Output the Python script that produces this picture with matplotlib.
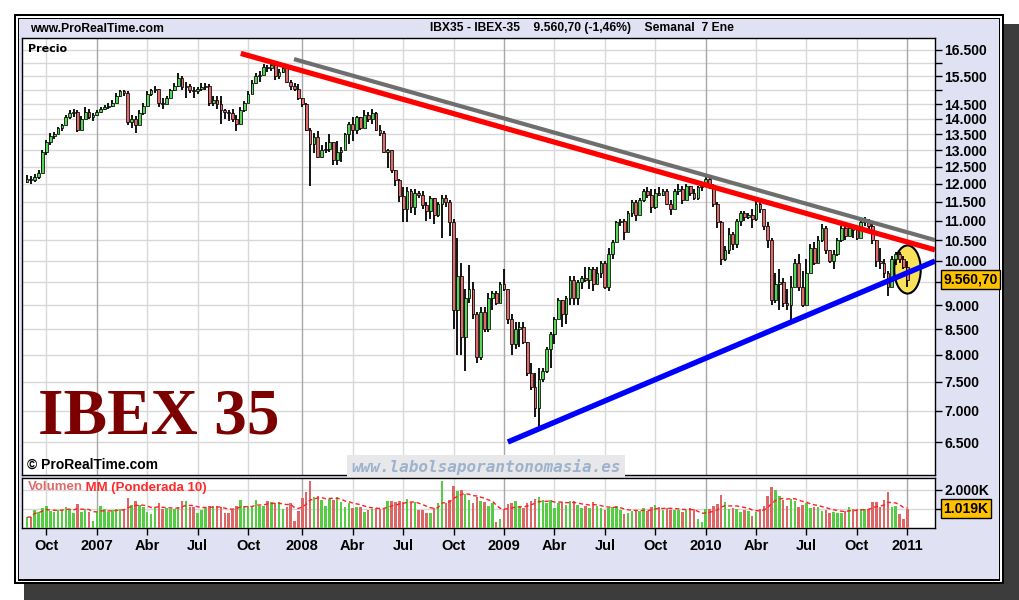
"""
IBEX 35 weekly bars (ProRealTime look) with trend lines and volume panel.
"""

import numpy as np
import pandas as pd
import matplotlib
matplotlib.use("Agg")
import matplotlib.pyplot as plt
import matplotlib.dates as mdates
from matplotlib.patches import Rectangle
from matplotlib.markers import MarkerStyle
from matplotlib.ticker import NullLocator, NullFormatter
from matplotlib.transforms import Affine2D, blended_transform_factory

plt.rcParams['font.family'] = ['Liberation Sans', 'DejaVu Sans']

# one bar per week, bars placed on the Monday of the week
first_week = "2006-08-28"
first_open = 12050

close = [
    12150, 12100, 12200, 12300, 12950, 13250, 13450, 13500, 13700, 13800,
    14050, 14200, 14250, 13650, 14000, 14250, 14050, 14150, 14250, 14350,
    14400, 14450, 14550, 14800, 14950, 14900, 13900, 14000, 13800, 14200,
    14450, 14850, 15000, 15050, 14550, 14500, 14700, 15000, 15150, 15450,
    15100, 15150, 15000, 14950, 15050, 15100, 15150, 14550, 14650, 14500,
    14300, 14250, 14200, 14000, 13850, 14300, 14550, 14850, 15250, 15500,
    15550, 15850, 15800, 15900, 15500, 15650, 15800, 15300, 15150, 15050,
    14700, 14500, 13650, 13200, 13400, 12800, 13000, 13050, 13250, 12700,
    12950, 13000, 13500, 13850, 13650, 14050, 13700, 14150, 14000, 14200,
    13650, 13550, 12950, 13000, 12400, 12100, 11650, 11300, 11800, 11350,
    11750, 11700, 11400, 11250, 11600, 11150, 11450, 11600, 11500, 10950,
    8900, 9650, 8350, 9150, 9350, 8800, 7950, 8850, 8500, 9150,
    9250, 9050, 9450, 9350, 8700, 8200, 8500, 8550, 8250, 7650,
    7400, 7050, 7550, 7700, 8100, 8400, 8700, 9100, 8800, 9150,
    9550, 9150, 9500, 9600, 9550, 9800, 9450, 9700, 9950, 9400,
    10150, 10450, 10950, 11000, 10700, 11200, 11500, 11150, 11550, 11800,
    11700, 11350, 11750, 11700, 11800, 11450, 11300, 11800, 11850, 11550,
    11950, 11750, 11600, 11900, 11950, 12150, 11950, 11450, 10950, 10050,
    10250, 10650, 10400, 11000, 11200, 11100, 11150, 11050, 11450, 11300,
    10850, 10500, 9100, 9450, 9500, 9050, 9000, 9400, 9950, 9400,
    9000, 9700, 10300, 9950, 10500, 10800, 10250, 10000, 10150, 10500,
    10800, 10600, 10800, 10750, 10550, 10950, 11000, 10850, 10500, 10000,
    9950, 9700, 9400, 10050, 10150, 10050, 9850, 9560.70,
]

high = [
    12250, 12230, 12280, 12400, 13000, 13330, 13550, 13560, 13750, 13850,
    14150, 14300, 14350, 14300, 14100, 14400, 14350, 14200, 14300, 14420,
    14480, 14550, 14650, 14900, 15000, 15000, 14950, 14150, 14100, 14300,
    14550, 14950, 15050, 15150, 15050, 14700, 14800, 15050, 15250, 15600,
    15500, 15300, 15200, 15100, 15100, 15250, 15250, 15200, 14800, 14800,
    14800, 14350, 14300, 14350, 14150, 14400, 14600, 14950, 15350, 15600,
    15700, 15950, 15900, 16000, 15900, 15750, 15900, 15950, 15350, 15250,
    15200, 14700, 14550, 13700, 13550, 13600, 13150, 13250, 13500, 13250,
    13300, 13100, 13550, 13900, 14050, 14100, 14050, 14300, 14250, 14350,
    14250, 13800, 13600, 13050, 13000, 12400, 12150, 11900, 11900, 11850,
    11850, 11800, 11800, 11500, 11650, 11600, 11500, 11700, 11700, 11550,
    11050, 10550, 9950, 9350, 9900, 9500, 8850, 8950, 8950, 9250,
    9300, 9300, 9500, 9800, 9350, 8800, 8650, 8650, 8650, 8250,
    7850, 7650, 7750, 7750, 8150, 8450, 8750, 9150, 9100, 9200,
    9650, 9650, 9550, 9650, 9850, 9850, 9850, 9850, 10000, 10000,
    10300, 10500, 11000, 11050, 11050, 11250, 11550, 11550, 11600, 11850,
    11900, 11850, 11850, 11900, 11850, 11850, 11550, 11850, 12000, 11950,
    12000, 11950, 11850, 11950, 12050, 12250, 12200, 12000, 11500, 11000,
    10350, 10800, 10700, 11050, 11250, 11250, 11200, 11300, 11550, 11600,
    11300, 10950, 10550, 9700, 9800, 9600, 9350, 9650, 10050, 10150,
    9750, 10050, 10400, 10450, 10600, 10900, 10850, 10250, 10250, 10550,
    10850, 10950, 10900, 10900, 10850, 11000, 11100, 11050, 10900, 10500,
    10300, 10050, 9750, 10100, 10200, 10200, 10100, 10000,
]

low = [
    12030, 12000, 12050, 12150, 12350, 12850, 13150, 13350, 13500, 13600,
    13800, 14000, 14050, 13580, 13650, 14000, 14000, 13950, 14100, 14200,
    14300, 14350, 14400, 14550, 14750, 14800, 13800, 13700, 13550, 13800,
    14150, 14450, 14800, 14900, 14400, 14350, 14500, 14700, 14950, 15100,
    15000, 14700, 14900, 14700, 14850, 14950, 15000, 14450, 14450, 14350,
    13850, 14000, 13950, 13900, 13600, 13850, 14250, 14550, 14850, 15200,
    15300, 15550, 15650, 15700, 15350, 15400, 15600, 15250, 15000, 14950,
    14650, 14400, 13600, 11950, 12900, 12750, 12750, 12900, 12950, 12550,
    12550, 12650, 13250, 13200, 13300, 13500, 13650, 13700, 13900, 13850,
    13600, 13450, 12900, 12450, 12300, 11950, 11500, 10950, 10950, 11200,
    11150, 11600, 11300, 11000, 11050, 10900, 11100, 10550, 11350, 10600,
    8500, 8000, 8000, 7700, 9050, 8700, 7850, 7900, 8450, 8450,
    8900, 9000, 9050, 9300, 8600, 8000, 8100, 8150, 8200, 7600,
    7350, 6900, 6720, 7500, 7650, 7750, 8200, 8700, 8550, 8600,
    9000, 9000, 9000, 9350, 9500, 9350, 9300, 9450, 9600, 9350,
    9300, 10050, 10450, 10850, 10500, 10700, 11100, 11000, 11150, 11500,
    11600, 11200, 11300, 11650, 11650, 11400, 11150, 11300, 11700, 11450,
    11550, 11650, 11550, 11550, 11800, 11900, 11850, 11350, 10800, 9900,
    10000, 10150, 10250, 10300, 10850, 11000, 11050, 10800, 11000, 11200,
    10750, 10300, 9000, 9050, 8900, 8950, 8900, 8650, 9400, 9300,
    8950, 9000, 9700, 9900, 9950, 10450, 10150, 9950, 9800, 10100,
    10450, 10500, 10600, 10550, 10500, 10550, 10850, 10750, 10400, 9850,
    9800, 9600, 9200, 9400, 9900, 9950, 9800, 9400,
]

# weekly volume, thousands of contracts
volume_k = [
    561, 596, 947, 860, 1070, 1158, 895, 860, 947, 947,
    1123, 1000, 807, 1263, 860, 1000, 860, 368, 860, 1158,
    1000, 860, 947, 1000, 1000, 1000, 1561, 1210, 1421, 1210,
    1123, 860, 737, 1123, 1333, 1000, 1070, 1000, 1000, 1123,
    1421, 1421, 1123, 1123, 807, 947, 1035, 1175, 1158, 1175,
    1123, 807, 807, 947, 1158, 1473, 1175, 1175, 1123, 1473,
    1175, 1175, 1421, 1386, 1298, 1351, 1000, 1123, 1298, 368,
    895, 1561, 1912, 2473, 1614, 1684, 1473, 1158, 1508, 1473,
    1614, 1386, 1088, 1333, 1070, 1123, 1123, 860, 947, 1000,
    1070, 1000, 1070, 1421, 1421, 1351, 1421, 1351, 1508, 1351,
    1351, 947, 947, 807, 807, 1035, 1333, 2491, 1333, 1473,
    2228, 1947, 2000, 1789, 1473, 1298, 1649, 1421, 1351, 1158,
    1333, 333, 474, 1000, 1263, 1333,
    1421, 1158, 1070, 1298, 1421, 1526, 1614, 1473, 1333, 1473,
    1070, 1333, 1351, 1210, 1421, 1421, 1210, 1070, 1158, 1070,
    1368, 1158, 1035, 947, 1035, 1088, 1158, 947, 737, 807,
    912, 912, 895, 1035, 895, 1123, 1210, 1123, 947, 1070,
    947, 947, 947, 860, 947, 1035, 1000, 474, 333, 1000,
    1000, 1158, 1263, 1737, 1368, 982, 1070, 1000, 860, 947,
    912, 632, 860, 1000, 1158, 1702, 2140, 2000, 1684, 1473,
    1158, 1508, 1421, 1123, 1210, 1298, 1035, 1088, 1123, 895,
    947, 772, 824, 807, 807, 895, 1088, 1000, 1000, 1000,
    1000, 982, 1386, 1386, 1123, 1473, 1912, 1123, 1158, 737,
    474, 1019,
]

# hand drawn trend lines: (dates, levels)
gray_line_dates = ["2007-12-23", "2011-02-22"]
gray_line_levels = [16140, 10500]
red_line_dates = ["2007-09-18", "2011-02-22"]
red_line_levels = [16360, 10260]
blue_line_dates = ["2009-01-12", "2011-02-22"]
blue_line_levels = [6500, 9990]

highlight_level = 9800

symbol_text = "IBX35 - IBEX-35"
change_text = "(-1,46%)"
period_text = "Semanal  7 Ene"
quarter_names = {4: "Abr", 7: "Jul", 10: "Oct"}

price_ticks = list(range(6500, 17000, 500))
hidden_price_labels = [16000, 15000, 9500]
volume_ticks = [1000, 2000]

x_start, x_end = "2006-08-19", "2011-02-22"


def es_num(v, dec=0):
    s = f"{v:,.{dec}f}"
    return s.replace(",", "#").replace(".", ",").replace("#", ".")


W, H = 1020, 600
fig = plt.figure(figsize=(W / 100, H / 100), dpi=100)
fig.patch.set_facecolor("white")


def frame_rect(x0, y0, x1, y1, color):
    fig.add_artist(Rectangle((x0 / W, 1 - y1 / H), (x1 - x0) / W, (y1 - y0) / H,
                             transform=fig.transFigure, facecolor=color,
                             edgecolor="none", zorder=-10))


# window frame with drop shadow
frame_rect(24, 24, 1020, 600, "#3c3c3c")
frame_rect(14, 14, 1004, 584, "black")
frame_rect(16, 16, 1002, 582, "white")
frame_rect(17.5, 17.5, 1000.5, 580.5, "black")
frame_rect(19, 19, 999, 579, "#e1e1f4")

ax = fig.add_axes([22 / W, 1 - 475 / H, 913 / W, 437 / H])
vax = fig.add_axes([22 / W, 1 - 528 / H, 913 / W, 50 / H], sharex=ax)

dates = pd.date_range(first_week, periods=len(close), freq="7D")
x = mdates.date2num(dates)
c = np.array(close, float)
hi = np.array(high, float)
lo = np.array(low, float)
o = np.r_[first_open, c[:-1]]
up = c >= o

# price bars
ax.set_yscale("log")
ax.vlines(x, lo, hi, color="black", lw=1.3, zorder=4)
ax.bar(x, np.abs(c - o), bottom=np.minimum(o, c), width=5,
       color=np.where(up, "#55d455", "#e06a6a"), edgecolor="black",
       linewidth=0.55, zorder=5)

# highlight around the last bars
ell = MarkerStyle("o", transform=Affine2D().scale(0.55, 1.0))
ax.scatter([x[-1]], [highlight_level], s=1200, marker=ell, facecolor="#f7e25a",
           edgecolor="black", linewidth=1.5, zorder=3)

for d, lv, col, lw in [(gray_line_dates, gray_line_levels, "#6e6e6e", 3.0),
                       (red_line_dates, red_line_levels, "#ff0000", 3.8),
                       (blue_line_dates, blue_line_levels, "#0000ff", 3.9)]:
    ax.plot(mdates.date2num(pd.to_datetime(d)), lv, color=col, lw=lw,
            solid_capstyle="butt", zorder=6)

ax.set_xlim(mdates.date2num(pd.Timestamp(x_start)), mdates.date2num(pd.Timestamp(x_end)))
ax.set_ylim(6010, 16970)

# quarter ticks at the first bar of every quarter
quarter = np.asarray(dates.year * 4 + (dates.month - 1) // 3)
new_q = np.r_[False, np.diff(quarter) != 0]
tick_dates = dates[new_q]
tick_x = x[new_q]
tick_labels = [str(d.year) if d.month == 1 else quarter_names[d.month] for d in tick_dates]

for a in (ax, vax):
    for tx, d in zip(tick_x, tick_dates):
        a.axvline(tx, color="#a8a8a8" if d.month == 1 else "#d8d8d8", lw=1, zorder=1)
    for sp in a.spines.values():
        sp.set_color("black")
        sp.set_linewidth(1)

# price axis on the right
ax.yaxis.tick_right()
ax.set_yticks(price_ticks)
ax.set_yticklabels(["" if t in hidden_price_labels else es_num(t) for t in price_ticks])
ax.yaxis.set_minor_locator(NullLocator())
ax.yaxis.set_minor_formatter(NullFormatter())
ax.tick_params(axis="y", length=5, width=1, pad=1.5, labelsize=10)
for lab in ax.get_yticklabels():
    lab.set_fontweight("bold")
ax.grid(axis="y", color="#d8d8d8", lw=1, zorder=0)
ax.set_axisbelow(True)
ax.tick_params(axis="x", bottom=False, labelbottom=False)

trans = blended_transform_factory(ax.transAxes, ax.transData)
ax.text(1.0088, c[-1], es_num(c[-1], 2), transform=trans, ha="left", va="center",
        fontsize=10, fontweight="bold", clip_on=False, zorder=10,
        bbox=dict(boxstyle="square,pad=0.18", fc="#ffc000", ec="black", lw=1))

ax.text(0.0065, 0.987, "Precio", transform=ax.transAxes, ha="left", va="top",
        fontsize=8, fontweight="bold", family="DejaVu Sans")
ax.text(0.0175, 0.096, "IBEX 35", transform=ax.transAxes, ha="left", va="baseline",
        fontsize=47, fontweight="bold", family="Liberation Serif", color="#7d0000", zorder=7)
ax.text(0.005, 0.008, "\u00a9 ProRealTime.com", transform=ax.transAxes, ha="left",
        va="bottom", fontsize=10, fontweight="bold", zorder=7)
ax.text(0.508, 0.019, "www.labolsaporantonomasia.es", transform=ax.transAxes,
        ha="center", va="center", family="DejaVu Sans Mono", fontsize=11.5,
        fontweight="bold", style="italic", color="#9db2cc", zorder=7,
        bbox=dict(boxstyle="square,pad=0.25", fc="#e8e8ea", ec="none"))

# volume panel
v = np.array(volume_k, float)
vax.bar(x, v, width=4.5, color=np.where(up, "#55cc44", "#dd6666"), zorder=3)
wma = []
for i in range(len(v)):
    seg = v[max(0, i - 9):i + 1]
    wts = np.arange(1, len(seg) + 1)
    wma.append(np.dot(seg, wts) / wts.sum())
vax.plot(x, wma, color="#ff2020", lw=1, ls=(0, (3, 2)), zorder=4)
vax.set_ylim(0, 2630)
vax.yaxis.tick_right()
vax.set_yticks(volume_ticks)
vax.set_yticklabels(["" if t == 1000 else es_num(t) + "K" for t in volume_ticks])
vax.tick_params(axis="y", length=5, width=1, pad=1.5, labelsize=10)
for lab in vax.get_yticklabels():
    lab.set_fontweight("bold")
vax.grid(axis="y", color="#d8d8d8", lw=1, zorder=0)
vax.set_axisbelow(True)

vtrans = blended_transform_factory(vax.transAxes, vax.transData)
vax.text(1.0088, v[-1], es_num(v[-1]) + "K", transform=vtrans, ha="left", va="center",
         fontsize=10, fontweight="bold", clip_on=False, zorder=10,
         bbox=dict(boxstyle="square,pad=0.18", fc="#ffc000", ec="black", lw=1))

t1 = vax.text(0.006, 0.93, "Volumen", transform=vax.transAxes, ha="left", va="top",
              fontsize=9.5, fontweight="bold", color="#e06a6a", zorder=7)
vax.annotate(" MM (Ponderada 10)", xy=(1, 0), xycoords=t1, ha="left", va="bottom",
             fontsize=9.5, fontweight="bold", color="#ff2a2a", zorder=7)

vax.set_xticks(tick_x)
vax.set_xticklabels(tick_labels)
vax.tick_params(axis="x", length=5, width=1, pad=3, labelsize=10.5)
for lab in vax.get_xticklabels():
    lab.set_fontweight("bold")

# header bar
fig.text(30 / W, 1 - 28.5 / H, "www.ProRealTime.com", ha="left", va="center",
         fontsize=8.7, fontweight="bold")
fig.text(430 / W, 1 - 28.5 / H,
         f"{symbol_text}    {es_num(c[-1], 2)} {change_text}    {period_text}",
         ha="left", va="center", fontsize=8.7, fontweight="bold")

fig.savefig("out.png", dpi=100)
